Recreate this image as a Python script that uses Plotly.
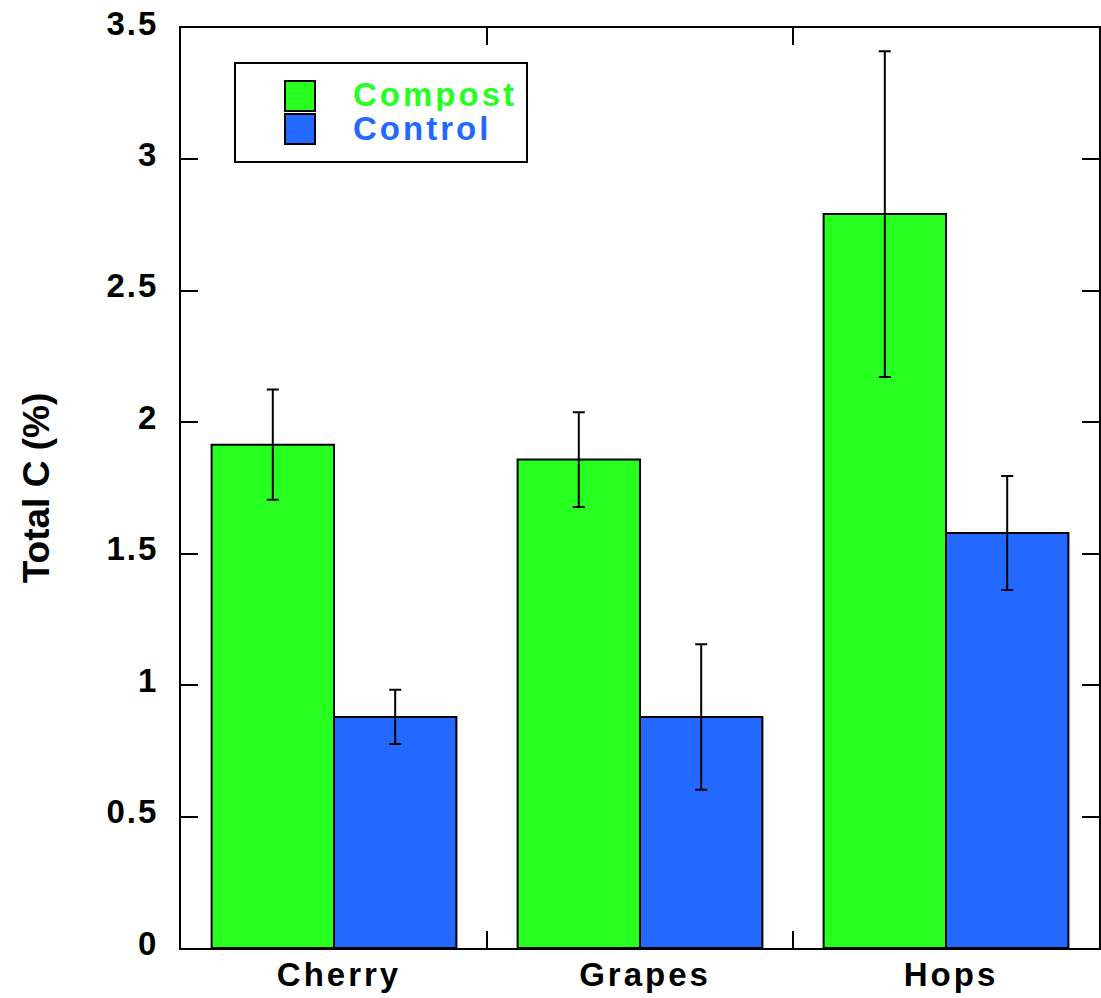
import plotly.graph_objects as go

categories = ["Cherry", "Grapes", "Hops"]
compost_values = [1.915, 1.858, 2.792]
compost_errors = [0.21, 0.18, 0.62]
control_values = [0.879, 0.879, 1.579]
control_errors = [0.103, 0.277, 0.217]
y_ticks = [0, 0.5, 1, 1.5, 2, 2.5, 3, 3.5]
y_tick_labels = ["0", "0.5", "1", "1.5", "2", "2.5", "3", "3.5"]

GREEN = "#26FF20"
BLUE = "#2369FF"
FONT = "Liberation Sans, Arial, Helvetica, sans-serif"


def spaced(s, px=3):
    return f'<span style="letter-spacing:{px}px">{s}</span>'


fig = go.Figure()
fig.add_trace(go.Bar(
    name="Compost", x=categories, y=compost_values,
    marker=dict(color=GREEN, line=dict(color="black", width=2)),
    error_y=dict(type="data", array=compost_errors, color="black", thickness=2, width=6),
))
fig.add_trace(go.Bar(
    name="Control", x=categories, y=control_values,
    marker=dict(color=BLUE, line=dict(color="black", width=2)),
    error_y=dict(type="data", array=control_errors, color="black", thickness=2, width=6),
))

# Manual legend (box, swatches, coloured labels)
L, R, T, B = 181, 1099, 28, 948
W, H = R - L, B - T


def px(x):
    return (x - L) / W


def py(y):
    return (B - y) / H


shapes = [
    dict(type="rect", xref="paper", yref="paper", x0=px(235), x1=px(527), y0=py(162), y1=py(63),
         line=dict(color="black", width=2), fillcolor="white", layer="above"),
    dict(type="rect", xref="paper", yref="paper", x0=px(285), x1=px(315), y0=py(111), y1=py(81),
         line=dict(color="black", width=2), fillcolor=GREEN, layer="above"),
    dict(type="rect", xref="paper", yref="paper", x0=px(285), x1=px(315), y0=py(144), y1=py(114),
         line=dict(color="black", width=2), fillcolor=BLUE, layer="above"),
]
annotations = [
    dict(text=spaced("Compost"), xref="paper", yref="paper", x=px(351), y=py(94), xanchor="left",
         yanchor="middle", height=33, valign="middle",
         showarrow=False, font=dict(family=FONT, size=33, color=GREEN, weight="bold")),
    dict(text=spaced("Control"), xref="paper", yref="paper", x=px(351), y=py(128), xanchor="left",
         yanchor="middle", height=33, valign="middle",
         showarrow=False, font=dict(family=FONT, size=33, color=BLUE, weight="bold")),
]

fig.update_layout(
    width=1101, height=998,
    margin=dict(l=L, r=1101 - R, t=T, b=998 - B, autoexpand=False),
    paper_bgcolor="white", plot_bgcolor="white",
    barmode="group", bargap=0.2, bargroupgap=0,
    showlegend=False,
    shapes=shapes, annotations=annotations,
    font=dict(family=FONT, size=33, color="black", weight="bold"),
    xaxis=dict(
        type="category", tickson="boundaries", ticks="inside", ticklen=17, tickwidth=2, tickcolor="black",
        showline=True, linecolor="black", linewidth=2, mirror="ticks", showgrid=False, automargin=False,
        tickvals=categories, ticktext=[spaced(c) for c in categories],
        tickfont=dict(family=FONT, size=33, color="black", weight="bold"),
        ticklabelstandoff=-4, ticklabelshift=5,
    ),
    yaxis=dict(
        range=[0, 3.5], tickvals=y_ticks, ticktext=[spaced(t, 2) for t in y_tick_labels],
        ticks="inside", ticklen=17, tickwidth=2, tickcolor="black",
        showline=True, linecolor="black", linewidth=2, mirror="ticks", showgrid=False, zeroline=False,
        automargin=False,
        tickfont=dict(family=FONT, size=33, color="black", weight="bold"),
        ticklabelstandoff=14, ticklabelshift=-5,
        title=dict(text="Total C (%)", font=dict(family=FONT, size=37, color="black", weight="bold"),
                   standoff=46),
    ),
)

fig.write_html("out.html")
